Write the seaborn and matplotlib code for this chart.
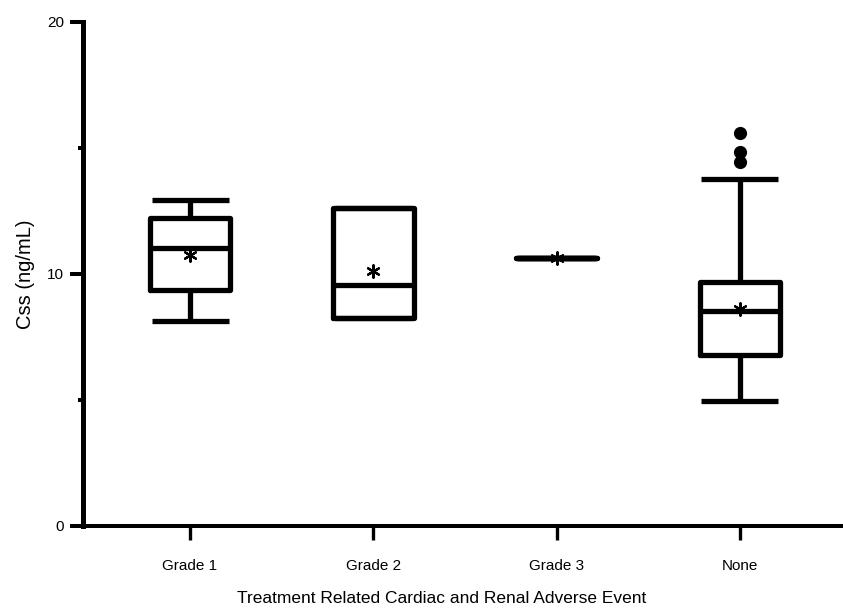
import matplotlib
matplotlib.use("Agg")
import matplotlib.pyplot as plt
import seaborn as sns
import pandas as pd

# Summary statistics per adverse-event group (Css, ng/mL)
groups = ["Grade 1", "Grade 2", "Grade 3", "None"]
whisker_low = [8.13, 8.25, 10.63, 4.96]
q1 = [9.37, 8.25, 10.63, 6.79]
median = [11.03, 9.56, 10.63, 8.53]
q3 = [12.22, 12.62, 10.63, 9.68]
whisker_high = [12.94, 12.62, 10.63, 13.77]
means = [10.75, 10.12, 10.63, 8.61]
outlier_group = ["None", "None", "None"]
outlier_values = [15.6, 14.84, 14.44]

sns.set_style("ticks", {"axes.edgecolor": "black", "xtick.color": "black",
                        "ytick.color": "black", "text.color": "black",
                        "axes.labelcolor": "black"})
plt.rcParams["font.family"] = ["Liberation Sans", "DejaVu Sans"]

fig = plt.figure(figsize=(8.43, 6.09), dpi=100)
ax = fig.add_axes([0.098, 0.1363, 0.902, 0.8276])

positions = list(range(len(groups)))
stats = [
    dict(label=g, whislo=wl, q1=a, med=m, q3=b, whishi=wh, fliers=[])
    for g, wl, a, m, b, wh in zip(groups, whisker_low, q1, median, q3, whisker_high)
]
lw = 3.8
line = dict(color="black", linewidth=lw, solid_capstyle="butt")
ax.bxp(
    stats,
    positions=positions,
    widths=0.44,
    capwidths=0.42,
    showfliers=False,
    boxprops=dict(color="black", linewidth=lw),
    whiskerprops=line,
    capprops=line,
    medianprops=dict(color="black", linewidth=lw, solid_capstyle="butt"),
    manage_ticks=False,
)

pos_of = {g: i for i, g in enumerate(groups)}
mean_df = pd.DataFrame({"x": positions, "y": means})
out_df = pd.DataFrame({"x": [pos_of[g] for g in outlier_group], "y": outlier_values})

sns.scatterplot(data=out_df, x="x", y="y", ax=ax, color="black", s=90,
                marker="o", edgecolor="black", linewidth=0, zorder=5)
sns.scatterplot(data=mean_df, x="x", y="y", ax=ax, color="black", s=80,
                marker=(6, 2, 0), linewidth=1.6, zorder=6)

ax.set_xlim(-0.586, 3.562)
ax.set_ylim(0, 20)
ax.set_xticks(positions)
ax.set_xticklabels(groups)
ax.set_yticks([0, 10, 20])
ax.set_yticks([5, 15], minor=True)

for side in ("top", "right"):
    ax.spines[side].set_visible(False)
ax.spines["left"].set_linewidth(3.6)
ax.spines["bottom"].set_linewidth(2.9)
ax.spines["bottom"].set_bounds(-0.57, 3.562)

ax.tick_params(axis="y", which="major", length=9.4, width=2.9, labelsize=11, pad=4)
ax.tick_params(axis="y", which="minor", length=3.6, width=2.9)
ax.tick_params(axis="x", which="major", length=10, width=2.4, labelsize=11, pad=13.5)

ax.set_xlabel("Treatment Related Cardiac and Renal Adverse Event", fontsize=12.5)
ax.xaxis.set_label_coords(0.4726, -0.129, transform=ax.transAxes)
ax.set_ylabel("Css (ng/mL)", fontsize=14.5, labelpad=9)

fig.savefig("out.png", dpi=100)
